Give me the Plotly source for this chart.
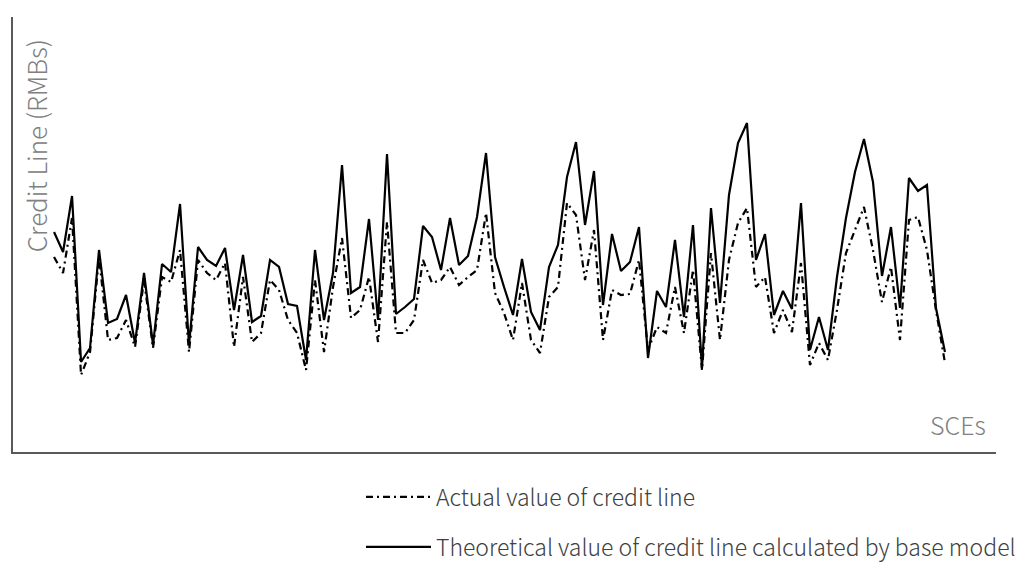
import plotly.graph_objects as go

# SCE index (100 enterprises)
sce_index = list(range(100))

# Theoretical value of credit line calculated by base model (arbitrary units)
theoretical = [220, 200, 256, 90, 104, 202, 129, 133, 157, 109,
               179, 107, 188, 180, 248, 107, 205, 192, 186, 204,
               142, 197, 130, 136, 192, 185, 148, 146, 92, 202,
               132, 179, 287, 159, 165, 233, 132, 298, 138, 145,
               153, 226, 215, 182, 234, 187, 196, 235, 299, 195,
               165, 137, 193, 140, 122, 185, 207, 275, 310, 227,
               281, 147, 218, 181, 190, 225, 94, 161, 145, 212,
               135, 227, 84, 244, 149, 257, 309, 329, 192, 218,
               137, 161, 143, 249, 102, 135, 102, 175, 234, 280,
               313, 270, 176, 225, 144, 274, 261, 267, 144, 100]

# Actual value of credit line
actual = [195, 179, 234, 77, 100, 195, 112, 114, 132, 105,
          172, 104, 175, 170, 202, 100, 192, 179, 172, 189,
          105, 175, 110, 119, 172, 162, 132, 119, 82, 172,
          100, 165, 214, 134, 142, 175, 110, 230, 119, 119,
          132, 192, 169, 172, 185, 167, 175, 182, 239, 159,
          139, 112, 169, 112, 99, 155, 165, 249, 237, 172,
          222, 112, 162, 157, 158, 192, 102, 125, 119, 165,
          119, 182, 82, 199, 112, 192, 229, 244, 165, 175,
          119, 142, 120, 189, 87, 109, 92, 142, 199, 222,
          245, 202, 150, 185, 112, 232, 235, 202, 142, 89]

FONT = "Noto Sans CJK SC"

fig = go.Figure()
fig.add_trace(go.Scatter(
    x=sce_index, y=actual, mode="lines",
    name="Actual value of credit line",
    line=dict(color="black", width=2.2, dash="7px,4px,2px,4px"),
    legendgroup="a",
))
fig.add_trace(go.Scatter(
    x=sce_index, y=theoretical, mode="lines",
    name="Theoretical value of credit line calculated by base model",
    line=dict(color="black", width=2.2),
    legendgroup="b",
))

fig.update_layout(
    width=1020, height=563,
    margin=dict(l=13, r=24, t=17, b=111, autoexpand=False),
    paper_bgcolor="white", plot_bgcolor="white",
    showlegend=True,
    legend=dict(
        orientation="v", x=0.354, xanchor="left", y=-0.054, yanchor="top",
        font=dict(family=FONT, size=23, color="#404040", weight=300),
        tracegroupgap=17, itemwidth=65, bgcolor="rgba(0,0,0,0)",
    ),
    xaxis=dict(range=[-4.56, 104.67], showgrid=False, zeroline=False,
               showticklabels=False, ticks="", showline=True,
               linecolor="#595959", linewidth=1.5),
    yaxis=dict(range=[0, 435], showgrid=False, zeroline=False,
               showticklabels=False, ticks="", showline=True,
               linecolor="#595959", linewidth=1.5),
    annotations=[
        dict(text="Credit Line (RMBs)", xref="paper", yref="paper",
             x=0.0224, y=0.703, textangle=-90, showarrow=False,
             xanchor="center", yanchor="middle",
             font=dict(family=FONT, size=26, color="#808080", weight=300)),
        dict(text="SCEs", xref="paper", yref="paper",
             x=0.961, y=0.064, showarrow=False,
             xanchor="center", yanchor="middle",
             font=dict(family=FONT, size=25, color="#808080", weight=300)),
    ],
)

fig.write_html("out.html", config={"displayModeBar": False},
               post_script="document.body.style.margin='0px';")
